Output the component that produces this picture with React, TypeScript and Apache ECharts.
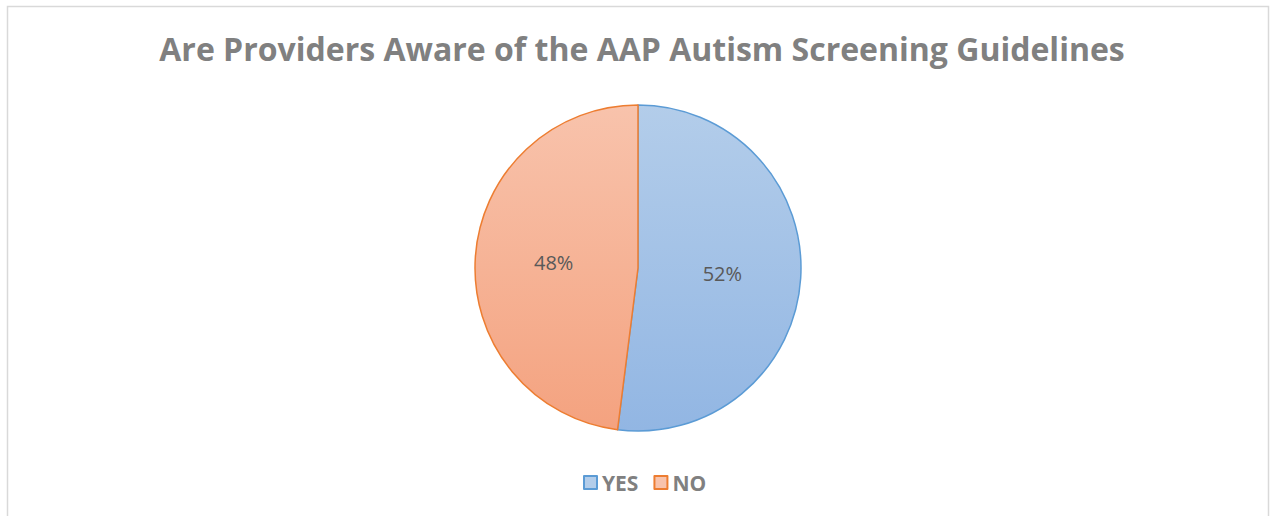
import React, { useEffect, useRef } from "react";
import * as echarts from "echarts";

const categories = ["YES", "NO"];
const values = [52, 48];
const titleText = "Are Providers Aware of the AAP Autism Screening Guidelines";

const edgeColors = ["#5b9bd5", "#ed7d31"];
const topColors = ["#b3cdea", "#f8c3ac"];
const bottomColors = ["#92b6e3", "#f4a27f"];

export default function App() {
  const ref = useRef<HTMLDivElement>(null);
  useEffect(() => {
    if (!ref.current) return;
    const chart = echarts.init(ref.current, undefined, { renderer: "svg" });
    const cx = 638;
    const cy = 268;
    const r = 163;
    chart.setOption({
      animation: false,
      backgroundColor: "#ffffff",
      title: {
        text: titleText,
        left: 637,
        textAlign: "center",
        top: 27,
        textStyle: {
          fontFamily: "Open Sans",
          fontWeight: "bold",
          fontSize: 32,
          color: "#808080",
        },
      },
      graphic: [
        {
          type: "rect",
          shape: { x: 7.5, y: 6.5, width: 1261, height: 530 },
          style: { fill: "none", stroke: "#d9d9d9", lineWidth: 1.5 },
          silent: true,
        },
      ],
      legend: {
        top: 472,
        left: 583,
        padding: 0,
        itemWidth: 13,
        itemHeight: 13,
        itemGap: 15,
        icon: "rect",
        itemStyle: { borderWidth: 2 },
        textStyle: {
          fontFamily: "Open Sans",
          fontWeight: "bold",
          fontSize: 21,
          color: "#808080",
        },
        data: categories,
      },
      series: [
        {
          type: "pie",
          center: [cx, cy],
          radius: [0, r],
          startAngle: 90,
          clockwise: true,
          label: {
            position: "inside",
            formatter: "{d}%",
            fontFamily: "Open Sans",
            fontSize: 20,
            color: "#595959",
          },
          labelLine: { show: false },
          emphasis: { disabled: true },
          data: categories.map((name, i) => ({
            name,
            value: values[i],
            itemStyle: {
              color: new echarts.graphic.LinearGradient(
                0,
                cy - r,
                0,
                cy + r,
                [
                  { offset: 0, color: topColors[i] },
                  { offset: 1, color: bottomColors[i] },
                ],
                true
              ),
              borderColor: edgeColors[i],
              borderWidth: 1.5,
            },
          })),
        },
      ],
    });
    return () => chart.dispose();
  }, []);
  return (
    <div
      ref={ref}
      style={{ position: "absolute", left: 0, top: 0, width: 1274, height: 516 }}
    />
  );
}
